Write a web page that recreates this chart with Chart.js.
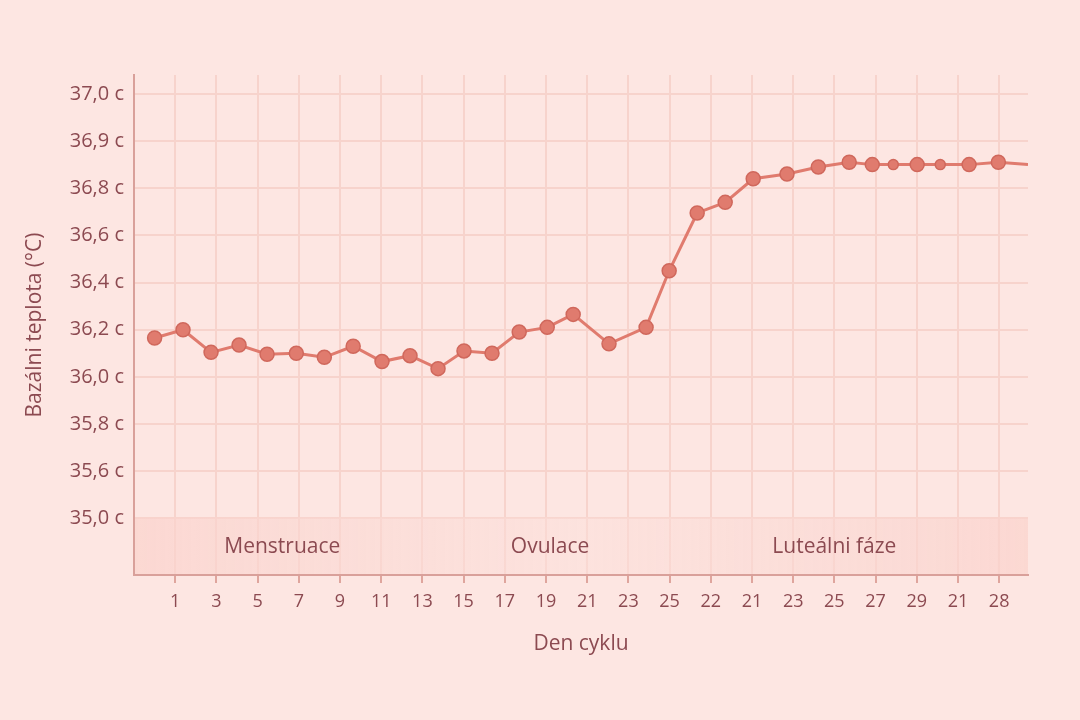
<!DOCTYPE html>
<html><head><meta charset="utf-8">
<script src="https://cdn.jsdelivr.net/npm/chart.js@4"></script>
<style>html,body{margin:0;background:#fde6e2}#wrap{width:1080px;height:720px}</style>
</head><body><div id="wrap"><canvas id="c"></canvas></div>
<script>
// tick labels (as printed on the chart)
const dayLabels = ['1','3','5','7','9','11','13','15','17','19','21','23','25','22','21','23','25','27','29','21','28'];
const tempLabels = ['35,0 c','35,6 c','35,8 c','36,0 c','36,2 c','36,4 c','36,6 c','36,8 c','36,9 c','37,0 c'];
const tempLevels = [35.0, 35.6, 35.8, 36.0, 36.2, 36.4, 36.6, 36.8, 36.9, 37.0];
// point positions along the day axis (in tick units) and temperatures
const dayPos = [-0.5,0.19,0.87,1.55,2.23,2.94,3.62,4.32,5.02,5.7,6.38,7.01,7.69,8.35,9.03,9.66,10.53,11.43,11.99,12.67,13.35,14.03,14.85,15.61,16.36,16.92,17.43,18.01,18.57,19.27,19.98,20.7];
const temps = [36.165,36.2,36.104,36.135,36.096,36.1,36.083,36.13,36.065,36.09,36.035,36.11,36.1,36.19,36.21,36.265,36.14,36.21,36.45,36.695,36.74,36.82,36.83,36.845,36.855,36.85,36.85,36.85,36.85,36.85,36.855,36.85];
const smallPts = [26, 28];
const phases = [{label:'Menstruace', at:2.6},{label:'Ovulace', at:9.1},{label:'Luteálni fáze', at:16.0}];

// piecewise mapping of temperature to the evenly spaced label index
function toIdx(t){
  for(let i=0;i<tempLevels.length-1;i++){
    if(t<=tempLevels[i+1]) return i+(t-tempLevels[i])/(tempLevels[i+1]-tempLevels[i]);
  }
  return tempLevels.length-1;
}
const pts = dayPos.map((x,i)=>({x, y: toIdx(temps[i])}));

const ink = '#8c4a51', red = '#e07b6e';
const deco = {
  id:'deco',
  beforeDatasetsDraw(ch){
    const {ctx, chartArea:a, scales:{x,y}} = ch;
    const top = y.getPixelForValue(0.02);
    const g = ctx.createLinearGradient(a.left,0,a.right,0);
    g.addColorStop(0,'rgba(250,210,204,0.7)');g.addColorStop(0.5,'rgba(252,222,217,0.5)');g.addColorStop(1,'rgba(250,210,204,0.7)');
    ctx.save();ctx.fillStyle=g;ctx.fillRect(a.left+1,top,a.right-a.left-1,a.bottom-top-1);
    ctx.fillStyle=ink;ctx.font='500 21px "Open Sans"';ctx.textAlign='center';ctx.textBaseline='middle';
    phases.forEach(p=>ctx.fillText(p.label,x.getPixelForValue(p.at),y.getPixelForValue(-0.6)));
    ctx.fillText('Den cyklu',(a.left+a.right)/2,644);
    ctx.translate(35,(a.top+a.bottom)/2);ctx.rotate(-Math.PI/2);
    ctx.fillText('Bazálni teplota (°C)',0,0);
    ctx.restore();
  }
};

new Chart(document.getElementById('c'),{
  type:'line',
  data:{datasets:[{data:pts,borderColor:red,borderWidth:3,backgroundColor:red,
    pointBorderColor:'#d0685c',pointBorderWidth:1.5,
    pointRadius:ctx=>ctx.dataIndex===pts.length-1?0:(smallPts.includes(ctx.dataIndex)?5:7)}]},
  options:{
    responsive:true,maintainAspectRatio:false,animation:false,
    layout:{padding:{top:75,right:52,left:0,bottom:0}},
    plugins:{legend:{display:false},tooltip:{enabled:false}},
    scales:{
      x:{type:'linear',min:-1,max:20.7,
        afterBuildTicks:s=>{s.ticks=dayLabels.map((_,i)=>({value:i}));},
        afterFit:s=>{s.height=145;},
        ticks:{color:ink,font:{size:18,weight:'500',family:'Open Sans'},padding:8,callback:v=>dayLabels[v]},
        grid:{color:'#f7d3cc',lineWidth:2,tickLength:8,tickColor:'#dfa59d'},
        border:{color:'#d9a09a',width:2}},
      y:{type:'linear',min:-1.2,max:9.4,
        afterBuildTicks:s=>{s.ticks=tempLabels.map((_,i)=>({value:i}));},
        afterFit:s=>{s.width=134;},
        ticks:{color:ink,font:{size:20,weight:'500',family:'Open Sans'},padding:10,callback:v=>tempLabels[v]},
        grid:{color:'#f7d3cc',lineWidth:2,tickLength:0},
        border:{color:'#d9a09a',width:2}}
    }
  },
  plugins:[deco]
});
</script></body></html>
